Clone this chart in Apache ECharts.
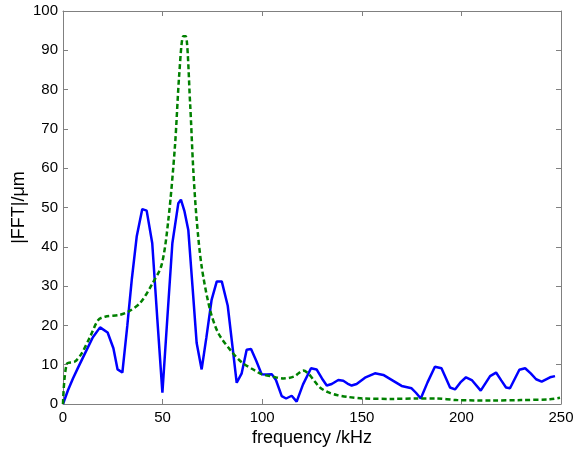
<!DOCTYPE html>
<html><head><meta charset="utf-8">
<script src="https://cdn.jsdelivr.net/npm/echarts@6/dist/echarts.min.js"></script>
<style>html,body{margin:0;padding:0;background:#fff}#c{width:574px;height:449px}</style>
</head><body><div id="c"></div>
<script>
var blueFreq = [0,2.5,5,7.5,10,12.5,15,18.6,22.4,25.3,27.4,29.8,32.3,34.6,37,39.8,42,44.8,47.3,49.9,52.4,54.9,57.9,59.2,61,62.9,65,67.1,69.6,72,74.6,77.2,79.7,82.7,85,87.2,89.7,92.2,94.4,97,99.7,102.2,104.8,106.9,109.8,112,114.8,117.3,120.5,124.5,127.3,130,132.4,134.9,138.2,140.7,142.8,144.9,147.4,151.6,156.6,160.8,165.8,170,175,177.3,179.6,183,186.7,190,192.3,194.3,196.8,199.5,202.3,205.2,209.7,214.4,217.4,220,222.4,224.4,229.1,232,234.8,237.5,240.3,244.5,247];
var blueVals = [0,3.5,6.5,9.2,11.8,14.4,17,19.5,18.2,14.2,8.8,8.0,20,32,42.6,49.6,49.2,40.9,22,2.9,22,40.9,51.1,52,49,44.3,30,15.5,8.8,17,26.5,31.2,31.2,25,15,5.4,7.8,13.8,14.0,11,7.6,7.5,7.6,6.1,2.0,1.4,2.1,0.6,5,9.1,8.8,6.5,4.7,5.1,6.1,5.9,5.2,4.7,5.1,6.7,7.8,7.4,5.9,4.6,4.0,2.8,1.4,5.5,9.5,9.1,6.5,4.2,3.7,5.5,6.8,6.1,3.4,7.1,8.0,6.0,4.2,4.0,8.7,9.1,7.8,6.3,5.7,6.8,7.1];
var greenFreq = [0,1.9,6,9.4,13.6,17.7,21.1,28.6,32.8,38.7,44.5,49.5,52.9,56.2,58.4,60.4,61.6,63.8,65.4,67.1,69.6,73.8,78,84.7,90,96.4,99.7,105,110.6,116,120.6,123.1,126,129,133,137.4,143,150.8,165,177.6,187.6,197.6,215,230,244.5,249.5];
var greenVals = [0,10.2,10.8,12.9,17.1,21.4,22.2,22.7,23.5,25.7,30.3,35.4,46.9,65.6,84.2,93.6,93.6,76.6,59.6,46.9,35,24,18,13.3,10.5,8.5,7.6,7.0,6.5,7.0,8.5,7.8,6.0,4.2,3.0,2.3,1.8,1.4,1.3,1.4,1.4,1.0,0.9,1.0,1.2,1.6];
var xTicks = [0,50,100,150,200,250];
var yTicks = [0,10,20,30,40,50,60,70,80,90,100];

function pairs(xs, ys){ return xs.map(function(x,i){return [x, ys[i]];}); }
var font = 'Liberation Sans, Arial, sans-serif';
var chart = echarts.init(document.getElementById('c'));
var axisLine = {show:true, onZero:false, lineStyle:{color:'#808080', width:1}};
var tick = {show:true, inside:true, length:5, lineStyle:{color:'#808080'}};
chart.setOption({
  animation:false,
  grid:{left:63, right:13, top:11, bottom:45, containLabel:false, outerBoundsMode:'none'},
  xAxis:[{type:'value', min:0, max:250, interval:50, position:'bottom',
    axisLine:axisLine, axisTick:tick, splitLine:{show:false},
    axisLabel:{color:'#000', fontSize:15, fontFamily:font, margin:6},
    name:'frequency /kHz', nameLocation:'middle', nameGap:25, nameMoveOverlap:false,
    nameTextStyle:{color:'#000', fontSize:18, fontFamily:font}},
   {type:'value', min:0, max:250, interval:50, position:'top',
    axisLine:axisLine, axisTick:tick, splitLine:{show:false}, axisLabel:{show:false}}],
  yAxis:[{type:'value', min:0, max:100, interval:10, position:'left',
    axisLine:axisLine, axisTick:tick, splitLine:{show:false},
    axisLabel:{color:'#000', fontSize:15, fontFamily:font, margin:5},
    name:'|FFT|/\u03bcm', nameLocation:'middle', nameGap:35, nameMoveOverlap:false,
    nameTextStyle:{color:'#000', fontSize:18, fontFamily:font}},
   {type:'value', min:0, max:100, interval:10, position:'right',
    axisLine:axisLine, axisTick:tick, splitLine:{show:false}, axisLabel:{show:false}}],
  series:[
    {type:'line', data:pairs(blueFreq, blueVals), showSymbol:false, symbol:'none',
     lineStyle:{color:'#0000ff', width:2.5}, z:2},
    {type:'line', data:pairs(greenFreq, greenVals), showSymbol:false, symbol:'none', smooth:0.3,
     lineStyle:{color:'#008000', width:2.5, type:[5,3]}, z:3}
  ]
});
</script></body></html>
